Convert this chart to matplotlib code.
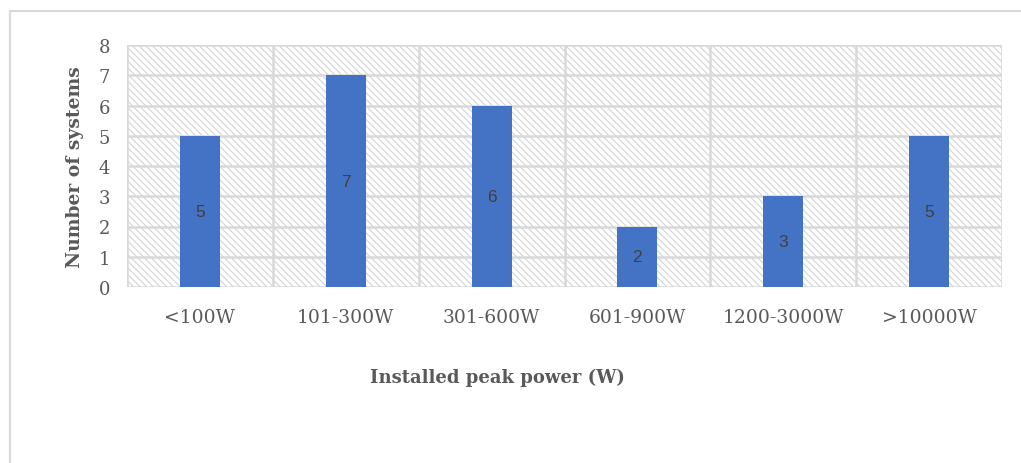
import matplotlib
matplotlib.use("Agg")
import matplotlib.pyplot as plt
from matplotlib.patches import Rectangle
import numpy as np

categories = ["<100W", "101-300W", "301-600W", "601-900W", "1200-3000W", ">10000W"]
counts = [5, 7, 6, 2, 3, 5]
y_ticks = [0, 1, 2, 3, 4, 5, 6, 7, 8]

GRID = "#d9d9d9"
BAR = "#4472C4"
TXT = "#595959"

plt.rcParams["hatch.linewidth"] = 0.8
plt.rcParams["hatch.color"] = "#d4d4d4"

fig = plt.figure(figsize=(10.21, 4.64), dpi=100)
fig.patch.set_facecolor("white")

# outer chart frame
fig.add_artist(plt.Line2D([10/1021, 10/1021], [0, 1 - 12/464], transform=fig.transFigure, color=GRID, lw=1.5))
fig.add_artist(plt.Line2D([10/1021, 1.0], [1 - 12/464, 1 - 12/464], transform=fig.transFigure, color=GRID, lw=1.5))

ax = fig.add_axes([127/1021, 1 - 288/464, (1002 - 127)/1021, (288 - 46)/464])
x = np.arange(len(categories))
ax.set_xlim(-0.5, len(categories) - 0.5)
ax.set_ylim(0, 8)

# hatched plot background
ax.add_patch(Rectangle((0, 0), 1, 1, transform=ax.transAxes, facecolor="white",
                       edgecolor="#d4d4d4", hatch="\\\\\\\\\\", lw=0, zorder=0))

for yv in y_ticks:
    ax.axhline(yv, color=GRID, lw=1.8, zorder=1)
for xv in np.arange(-0.5, len(categories), 1.0):
    ax.axvline(xv, color=GRID, lw=1.8, zorder=1)

bars = ax.bar(x, counts, width=0.275, color=BAR, zorder=2)
for xi, c in zip(x, counts):
    ax.text(xi, c / 2, str(c), ha="center", va="center", color="#404040",
            fontsize=12.5, family="Liberation Sans", zorder=3)

for s in ax.spines.values():
    s.set_visible(False)

ax.set_yticks(y_ticks)
ax.set_yticklabels([str(v) for v in y_ticks], family="DejaVu Serif", fontsize=13, color=TXT)
ax.set_xticks(x)
ax.set_xticklabels(categories, family="DejaVu Serif", fontsize=13.5, color=TXT)
ax.tick_params(axis="both", length=0)
ax.tick_params(axis="y", pad=12)
ax.tick_params(axis="x", pad=15)

ax.set_ylabel("Number of systems", family="DejaVu Serif", fontsize=13.5,
              fontweight="bold", color=TXT)
ax.yaxis.set_label_coords(-(127 - 75) / (1002 - 127), 0.5)
ax.set_xlabel("Installed peak power (W)", family="DejaVu Serif", fontsize=13,
              fontweight="bold", color=TXT)
ax.xaxis.set_label_coords((497 - 127) / (1002 - 127), -(378 - 288) / (288 - 46))
ax.xaxis.label.set_va("center")
ax.yaxis.label.set_va("center")

fig.savefig("out.png", dpi=100)
